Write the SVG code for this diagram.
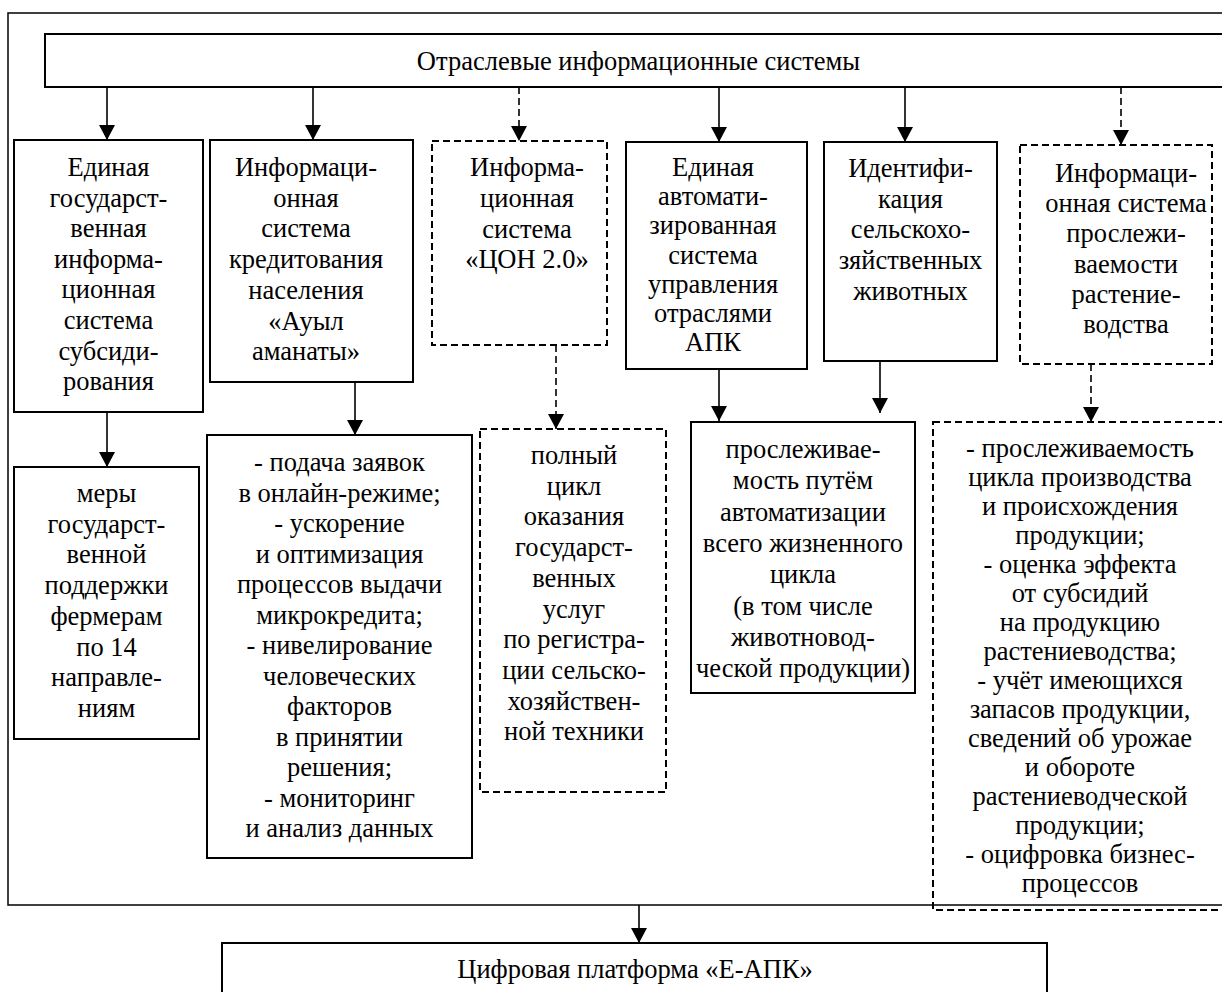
<svg xmlns="http://www.w3.org/2000/svg" width="1222" height="992" viewBox="0 0 1222 992">
<style>
text{font-family:'Liberation Serif','Times New Roman',serif;font-size:26.5px;fill:#000;text-anchor:middle}
.box{fill:none;stroke:#000;stroke-width:2}
.dbox{fill:none;stroke:#000;stroke-width:2;stroke-dasharray:7 4}
.frame{fill:none;stroke:#000;stroke-width:1.5}
.c{fill:none;stroke:#000;stroke-width:1.6;marker-end:url(#ah)}
.cd{fill:none;stroke:#000;stroke-width:1.6;stroke-dasharray:7 4;marker-end:url(#ah)}
</style>
<defs>
<marker id="ah" viewBox="0 0 15 16" refX="15" refY="8" markerWidth="15" markerHeight="16" markerUnits="userSpaceOnUse" orient="auto">
<path d="M0,0 L15,8 L0,16 Z" fill="#000" stroke="none"/>
</marker>
</defs>
<rect width="1222" height="992" fill="#fff"/>
<rect class="frame" x="8" y="13" width="1230" height="892"/>

<g id="connectors">
<line class="c" x1="107" y1="87" x2="107" y2="140"/>
<line class="c" x1="313" y1="87" x2="313" y2="140"/>
<line class="cd" x1="519" y1="87" x2="519" y2="141"/>
<line class="c" x1="719" y1="87" x2="719" y2="142"/>
<line class="c" x1="905" y1="87" x2="905" y2="142"/>
<line class="cd" x1="1121" y1="87" x2="1121" y2="145"/>
<line class="c" x1="107" y1="412" x2="107" y2="467"/>
<line class="c" x1="355" y1="382" x2="355" y2="435"/>
<line class="cd" x1="556" y1="345" x2="556" y2="429"/>
<line class="c" x1="719" y1="369" x2="719" y2="421"/>
<line class="c" x1="880" y1="361" x2="880" y2="413"/>
<line class="cd" x1="1091" y1="364" x2="1091" y2="422"/>
<line class="c" x1="639" y1="905" x2="639" y2="943"/>
</g>

<g font-family="Liberation Serif" font-size="26.5" text-anchor="middle" fill="#000">
<g id="header">
<rect class="box" x="45" y="34" width="1200" height="53"/>
<text x="638.5" y="70">Отраслевые информационные системы</text>
</g>

<g id="n1">
<rect class="box" x="14" y="140" width="189" height="272"/>
<text x="108.5" y="176">Единая</text>
<text x="108.5" y="206.6">государст-</text>
<text x="108.5" y="237.2">венная</text>
<text x="108.5" y="267.8">информа-</text>
<text x="108.5" y="298.4">ционная</text>
<text x="108.5" y="329">система</text>
<text x="108.5" y="359.6">субсиди-</text>
<text x="108.5" y="390.2">рования</text>
</g>

<g id="n2">
<rect class="box" x="210" y="140" width="203" height="242"/>
<text x="306" y="176">Информаци-</text>
<text x="306" y="206.7">онная</text>
<text x="306" y="237.4">система</text>
<text x="306" y="268.1">кредитования</text>
<text x="306" y="298.8">населения</text>
<text x="306" y="329.5">«Ауыл</text>
<text x="306" y="360.2">аманаты»</text>
</g>

<g id="n3">
<rect class="dbox" x="432" y="141" width="175" height="204"/>
<text x="527" y="176">Информа-</text>
<text x="527" y="206.8">ционная</text>
<text x="527" y="237.6">система</text>
<text x="527" y="268.4">«ЦОН 2.0»</text>
</g>

<g id="n4">
<rect class="box" x="626" y="142" width="181" height="227"/>
<text x="713" y="176">Единая</text>
<text x="713" y="205.2">автомати-</text>
<text x="713" y="234.4">зированная</text>
<text x="713" y="263.6">система</text>
<text x="713" y="292.8">управления</text>
<text x="713" y="322">отраслями</text>
<text x="713" y="351.2">АПК</text>
</g>

<g id="n5">
<rect class="box" x="824" y="142" width="173" height="219"/>
<text x="910.5" y="176.7">Идентифи-</text>
<text x="910.5" y="207.5">кация</text>
<text x="910.5" y="238.3">сельскохо-</text>
<text x="910.5" y="269.1">зяйственных</text>
<text x="910.5" y="299.9">животных</text>
</g>

<g id="n6">
<rect class="dbox" x="1020" y="145" width="192" height="219"/>
<text x="1126" y="181.7">Информаци-</text>
<text x="1126" y="212">онная система</text>
<text x="1126" y="242.3">прослежи-</text>
<text x="1126" y="272.6">ваемости</text>
<text x="1126" y="302.9">растение-</text>
<text x="1126" y="333.2">водства</text>
</g>

<g id="n1b">
<rect class="box" x="14" y="467" width="185" height="272"/>
<text x="106.5" y="502">меры</text>
<text x="106.5" y="532.7">государст-</text>
<text x="106.5" y="563.4">венной</text>
<text x="106.5" y="594.1">поддержки</text>
<text x="106.5" y="624.8">фермерам</text>
<text x="106.5" y="655.5">по 14</text>
<text x="106.5" y="686.2">направле-</text>
<text x="106.5" y="716.9">ниям</text>
</g>

<g id="n2b">
<rect class="box" x="207" y="435" width="265" height="423"/>
<text x="339.5" y="471">- подача заявок</text>
<text x="339.5" y="501.5">в онлайн-режиме;</text>
<text x="339.5" y="532">- ускорение</text>
<text x="339.5" y="562.5">и оптимизация</text>
<text x="339.5" y="593">процессов выдачи</text>
<text x="339.5" y="623.5">микрокредита;</text>
<text x="339.5" y="654">- нивелирование</text>
<text x="339.5" y="684.5">человеческих</text>
<text x="339.5" y="715">факторов</text>
<text x="339.5" y="745.5">в принятии</text>
<text x="339.5" y="776">решения;</text>
<text x="339.5" y="806.5">- мониторинг</text>
<text x="339.5" y="837">и анализ данных</text>
</g>

<g id="n3b">
<rect class="dbox" x="480" y="429" width="186" height="363"/>
<text x="574" y="464">полный</text>
<text x="574" y="494.7">цикл</text>
<text x="574" y="525.4">оказания</text>
<text x="574" y="556.1">государст-</text>
<text x="574" y="586.8">венных</text>
<text x="574" y="617.5">услуг</text>
<text x="574" y="648.2">по регистра-</text>
<text x="574" y="678.9">ции сельско-</text>
<text x="574" y="709.6">хозяйствен-</text>
<text x="574" y="740.3">ной техники</text>
</g>

<g id="n4b">
<rect class="box" x="691" y="422" width="224" height="271"/>
<text x="803" y="458">прослеживае-</text>
<text x="803" y="489.3">мость путём</text>
<text x="803" y="520.6">автоматизации</text>
<text x="803" y="551.9">всего жизненного</text>
<text x="803" y="583.2">цикла</text>
<text x="803" y="614.5">(в том числе</text>
<text x="803" y="645.8">животновод-</text>
<text x="803" y="677.1">ческой продукции)</text>
</g>

<g id="n6b">
<rect class="dbox" x="933" y="422" width="300" height="488"/>
<text x="1080" y="457">- прослеживаемость</text>
<text x="1080" y="486">цикла производства</text>
<text x="1080" y="515">и происхождения</text>
<text x="1080" y="544">продукции;</text>
<text x="1080" y="573">- оценка эффекта</text>
<text x="1080" y="602">от субсидий</text>
<text x="1080" y="631">на продукцию</text>
<text x="1080" y="660">растениеводства;</text>
<text x="1080" y="689">- учёт имеющихся</text>
<text x="1080" y="718">запасов продукции,</text>
<text x="1080" y="747">сведений об урожае</text>
<text x="1080" y="776">и обороте</text>
<text x="1080" y="805">растениеводческой</text>
<text x="1080" y="834">продукции;</text>
<text x="1080" y="863">- оцифровка бизнес-</text>
<text x="1080" y="892">процессов</text>
</g>

<g id="platform">
<rect class="box" x="222" y="943" width="825" height="60"/>
<text x="635" y="978">Цифровая платформа «Е-АПК»</text>
</g>
</g>
</svg>
